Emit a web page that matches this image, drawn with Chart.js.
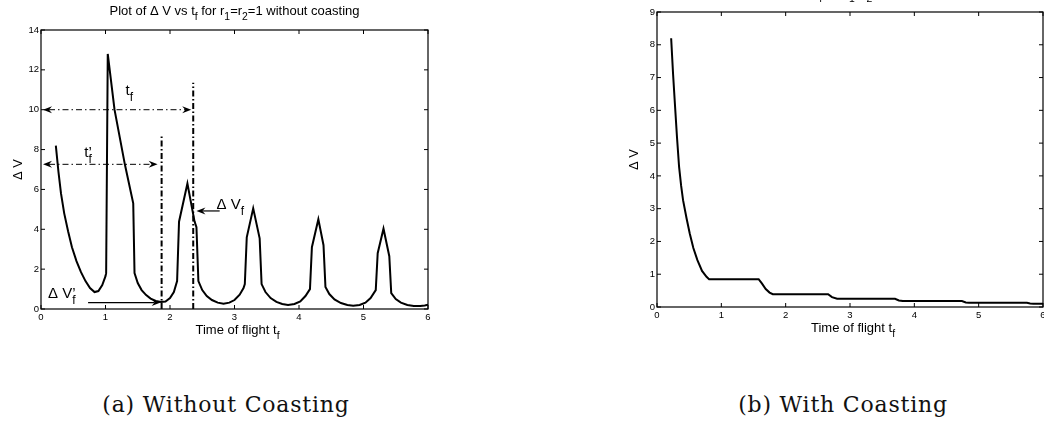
<!DOCTYPE html>
<html>
<head>
<meta charset="utf-8">
<script src="https://cdn.jsdelivr.net/npm/chart.js@4.4.1/dist/chart.umd.min.js"></script>
<style>
  html, body { margin: 0; padding: 0; background: #fff; }
  body { position: relative; width: 1044px; height: 425px; overflow: hidden; }
  .fig { position: absolute; }
  #figA { left: 0; top: 0; }
  #figB { left: 590px; top: -20px; }
  .caption {
    position: absolute; top: 391px; line-height: 28px;
    font-family: "DejaVu Serif", "Liberation Serif", serif; font-size: 22px; letter-spacing: 0.8px;
    color: #111; white-space: nowrap; transform: translateX(-50%);
  }
</style>
</head>
<body>
<div class="fig" id="figA"><canvas id="chartA" width="470" height="345"></canvas></div>
<div class="fig" id="figB"><canvas id="chartB" width="490" height="360"></canvas></div>
<div class="caption" style="left:226px">(a) Without Coasting</div>
<div class="caption" style="left:843px">(b) With Coasting</div>

<script>
'use strict';

// >>> delta-V vs time of flight, no coasting arc <<<
const tfNoCoast = [
  0.23, 0.27, 0.31, 0.36, 0.42, 0.48, 0.55, 0.62, 0.69, 0.76, 0.83, 0.89, 0.95, 1.0, 1.01,
  1.035, 1.14, 1.3, 1.43, 1.45, 1.5, 1.56, 1.63, 1.7, 1.78, 1.86, 1.93, 2.0, 2.06, 2.11,
  2.14, 2.27, 2.38, 2.41, 2.44, 2.5, 2.57, 2.65, 2.74, 2.83, 2.92, 3.0, 3.08, 3.14, 3.16,
  3.19, 3.29, 3.39, 3.42, 3.48, 3.56, 3.65, 3.74, 3.83, 3.93, 4.02, 4.1, 4.17, 4.2,
  4.3, 4.38, 4.41, 4.47, 4.55, 4.65, 4.75, 4.84, 4.94, 5.03, 5.11, 5.19, 5.22,
  5.31, 5.4, 5.43, 5.5, 5.58, 5.68, 5.78, 5.88, 5.95, 6.0
];
const dvNoCoast = [
  8.2, 6.9, 5.8, 4.8, 3.9, 3.1, 2.4, 1.85, 1.4, 1.05, 0.85, 0.9, 1.2, 1.65, 1.8,
  12.8, 10.0, 7.26, 5.3, 1.8, 1.3, 0.95, 0.7, 0.52, 0.4, 0.35, 0.38, 0.55, 0.85, 1.4,
  4.38, 6.3, 4.4, 4.1, 1.4, 0.95, 0.65, 0.45, 0.32, 0.27, 0.32, 0.45, 0.72, 1.05, 1.25,
  3.6, 5.05, 3.55, 1.25, 0.85, 0.55, 0.36, 0.25, 0.2, 0.25, 0.38, 0.65, 1.0, 3.1,
  4.5, 3.2, 1.1, 0.75, 0.48, 0.3, 0.2, 0.16, 0.2, 0.32, 0.55, 0.95, 2.8,
  4.03, 2.65, 0.8, 0.5, 0.32, 0.2, 0.15, 0.15, 0.18, 0.22
];

// >>> delta-V vs time of flight, with coasting arc <<<
const tfCoast = [
  0.22, 0.25, 0.275, 0.31, 0.343, 0.375, 0.405, 0.46, 0.509, 0.565, 0.628, 0.7, 0.77, 0.81,
  1.2, 1.58, 1.63, 1.69, 1.75, 1.8, 2.2, 2.66, 2.72, 2.8, 3.2, 3.7, 3.76, 3.82,
  4.3, 4.74, 4.8, 4.85, 5.3, 5.75, 5.8, 5.85, 6.0
];
const dvCoast = [
  8.2, 7.1, 6.3, 5.2, 4.28, 3.7, 3.26, 2.7, 2.24, 1.8, 1.43, 1.1, 0.92, 0.85,
  0.85, 0.85, 0.72, 0.55, 0.44, 0.39, 0.39, 0.39, 0.3, 0.25, 0.25, 0.25, 0.2, 0.18,
  0.18, 0.18, 0.14, 0.13, 0.13, 0.13, 0.11, 0.1, 0.1
];

// >>> tick labels <<<
const xTicks = [0, 1, 2, 3, 4, 5, 6];
const yTicksNoCoast = [0, 2, 4, 6, 8, 10, 12, 14];
const yTicksCoast = [0, 1, 2, 3, 4, 5, 6, 7, 8, 9];

// >>> markers on the no-coasting plot (data units) <<<
const tfMark = 2.36;        // full transfer time t_f
const tfMarkTop = 11.35;
const tfPrimeMark = 1.87;   // shorter time t_f'
const tfPrimeMarkTop = 8.65;
const tfArrowLevel = 10;
const tfPrimeArrowLevel = 7.26;
const dvfLevel = 4.92;      // delta V at t_f
const dvfPrimeLevel = 0.32; // delta V at t_f'


// >>> HELPER functions <<<
const SANS = '"Liberation Sans", Arial, sans-serif';

function font(size) {
  return size + 'px ' + SANS;
}

// draws text runs with sub/superscripts; run = [text, kind, stay]
function richText(ctx, runs, x, y, size, align) {
  const small = size * 0.8;
  let total = 0;
  runs.forEach(r => {
    ctx.font = font(r[1] === 'sub' ? small : size);
    if (!r[2]) total += ctx.measureText(r[0]).width;
  });
  let cx = x;
  if (align === 'center') cx = x - total / 2;
  ctx.textAlign = 'left';
  ctx.textBaseline = 'alphabetic';
  runs.forEach(r => {
    ctx.font = font(r[1] === 'sub' ? small : size);
    const dy = r[1] === 'sub' ? size * 0.4 : 0;
    ctx.fillText(r[0], cx, y + dy);
    if (!r[2]) cx += ctx.measureText(r[0]).width;
  });
}

function arrowHead(ctx, x, y, dir) {
  const len = 9, half = 3.5, notch = 3;
  ctx.beginPath();
  ctx.moveTo(x, y);
  ctx.lineTo(x - dir * len, y - half);
  ctx.lineTo(x - dir * (len - notch), y);
  ctx.lineTo(x - dir * len, y + half);
  ctx.closePath();
  ctx.fill();
}

// box, inward ticks, title and axis labels in matlab style
function frameOf(titleRuns) {
  return {
    id: 'frame',
    afterDraw(chart) {
      const { ctx, chartArea: a, scales } = chart;
      ctx.save();
      ctx.strokeStyle = '#000';
      ctx.fillStyle = '#000';
      ctx.lineWidth = 1.2;
      ctx.strokeRect(a.left, a.top, a.right - a.left, a.bottom - a.top);

      ctx.lineWidth = 1;
      ctx.beginPath();
      scales.x.ticks.forEach(t => {
        const px = scales.x.getPixelForValue(t.value);
        ctx.moveTo(px, a.bottom); ctx.lineTo(px, a.bottom - 4);
        ctx.moveTo(px, a.top); ctx.lineTo(px, a.top + 4);
      });
      scales.y.ticks.forEach(t => {
        const py = scales.y.getPixelForValue(t.value);
        ctx.moveTo(a.left, py); ctx.lineTo(a.left + 4, py);
        ctx.moveTo(a.right, py); ctx.lineTo(a.right - 4, py);
      });
      ctx.stroke();

      const midX = (a.left + a.right) / 2;
      const midY = (a.top + a.bottom) / 2;
      richText(ctx, titleRuns, midX, a.top - 15, 13, 'center');
      richText(ctx, [['Time of flight t'], ['f', 'sub']], midX + 3, a.bottom + 25, 13, 'center');

      ctx.save();
      ctx.translate(a.left - 19, midY);
      ctx.rotate(-Math.PI / 2);
      richText(ctx, [['\u0394 V']], 0, 0, 13, 'center');
      ctx.restore();
      ctx.restore();
    }
  };
}

// dash-dot markers and arrows for t_f and t_f'
const markers = {
  id: 'markers',
  afterDatasetsDraw(chart) {
    const { ctx, chartArea: a, scales: { x, y } } = chart;
    ctx.save();
    ctx.strokeStyle = '#000';
    ctx.fillStyle = '#000';

    // vertical dash-dot lines
    ctx.lineWidth = 2;
    ctx.setLineDash([6, 2.5, 1.5, 2.5]);
    ctx.beginPath();
    ctx.moveTo(x.getPixelForValue(tfMark), y.getPixelForValue(0));
    ctx.lineTo(x.getPixelForValue(tfMark), y.getPixelForValue(tfMarkTop));
    ctx.moveTo(x.getPixelForValue(tfPrimeMark), y.getPixelForValue(0));
    ctx.lineTo(x.getPixelForValue(tfPrimeMark), y.getPixelForValue(tfPrimeMarkTop));
    ctx.stroke();

    // horizontal double arrows
    ctx.lineWidth = 1;
    ctx.setLineDash([6, 3, 1.5, 3]);
    const spans = [
      [tfArrowLevel, x.getPixelForValue(tfMark) - 2],
      [tfPrimeArrowLevel, x.getPixelForValue(tfPrimeMark) - 4]
    ];
    spans.forEach(([lvl, tip]) => {
      const py = y.getPixelForValue(lvl);
      const x0 = a.left + 2;
      ctx.beginPath();
      ctx.moveTo(x0 + 6, py);
      ctx.lineTo(tip - 6, py);
      ctx.stroke();
      arrowHead(ctx, x0, py, -1);
      arrowHead(ctx, tip, py, 1);
    });

    // solid pointers to the delta V values
    ctx.setLineDash([]);
    ctx.lineWidth = 1.2;
    let py = y.getPixelForValue(dvfLevel);
    let tip = x.getPixelForValue(2.41);
    ctx.beginPath();
    ctx.moveTo(tip + 6, py);
    ctx.lineTo(x.getPixelForValue(2.77), py);
    ctx.stroke();
    arrowHead(ctx, tip, py, -1);

    py = y.getPixelForValue(dvfPrimeLevel);
    tip = x.getPixelForValue(tfPrimeMark) - 1;
    ctx.beginPath();
    ctx.moveTo(x.getPixelForValue(0.73), py);
    ctx.lineTo(tip - 6, py);
    ctx.stroke();
    arrowHead(ctx, tip, py, 1);

    // labels
    richText(ctx, [['t'], ['f', 'sub']], x.getPixelForValue(1.31), y.getPixelForValue(10.74), 15);
    richText(ctx, [['t'], ['f', 'sub', true], ['\u2019', 'sup']],
      x.getPixelForValue(0.67), y.getPixelForValue(7.64), 15);
    richText(ctx, [['\u0394 V'], ['f', 'sub']], x.getPixelForValue(2.72), y.getPixelForValue(5.0), 15);
    richText(ctx, [['\u0394 V'], ['f', 'sub', true], ['\u2019', 'sup']],
      x.getPixelForValue(0.11), y.getPixelForValue(0.55), 15);
    ctx.restore();
  }
};

function makeChart(canvasId, tf, dv, yTicks, yMax, fit, titleRuns, extra) {
  const points = tf.map((t, i) => ({ x: t, y: dv[i] }));
  const tickFont = { family: SANS, size: 9.5 };
  return new Chart(document.getElementById(canvasId), {
    type: 'line',
    data: {
      datasets: [{
        data: points,
        borderColor: '#000',
        borderWidth: 2,
        pointRadius: 0,
        tension: 0,
        fill: false
      }]
    },
    options: {
      responsive: false,
      animation: false,
      devicePixelRatio: 1,
      layout: { padding: { top: fit.top, right: fit.right, left: 0, bottom: 0 } },
      plugins: { legend: { display: false }, tooltip: { enabled: false } },
      scales: {
        x: {
          type: 'linear', min: 0, max: 6,
          afterBuildTicks: s => { s.ticks = xTicks.map(v => ({ value: v })); },
          afterFit: s => { s.height = fit.bottom; },
          ticks: { font: tickFont, color: '#000', padding: 3, autoSkip: false, maxRotation: 0 },
          grid: { display: false, drawTicks: false },
          border: { display: false }
        },
        y: {
          type: 'linear', min: 0, max: yMax,
          afterBuildTicks: s => { s.ticks = yTicks.map(v => ({ value: v })); },
          afterFit: s => { s.width = fit.left; },
          ticks: { font: tickFont, color: '#000', padding: 2, autoSkip: false },
          grid: { display: false, drawTicks: false },
          border: { display: false }
        }
      }
    },
    plugins: [frameOf(titleRuns)].concat(extra)
  });
}

// >>> Executable Code <<<
makeChart('chartA', tfNoCoast, dvNoCoast, yTicksNoCoast, 14,
  { left: 41, top: 30, right: 42, bottom: 36 },
  [['Plot of \u0394 V vs t'], ['f', 'sub'], [' for r'], ['1', 'sub'], ['=r'], ['2', 'sub'], ['=1 without coasting']],
  [markers]);

makeChart('chartB', tfCoast, dvCoast, yTicksCoast, 9,
  { left: 67, top: 32, right: 37, bottom: 33 },
  [['Plot of \u0394 V vs t'], ['f', 'sub'], [' for r'], ['1', 'sub'], ['=r'], ['2', 'sub'], ['=1 with coasting']],
  []);
</script>
</body>
</html>
